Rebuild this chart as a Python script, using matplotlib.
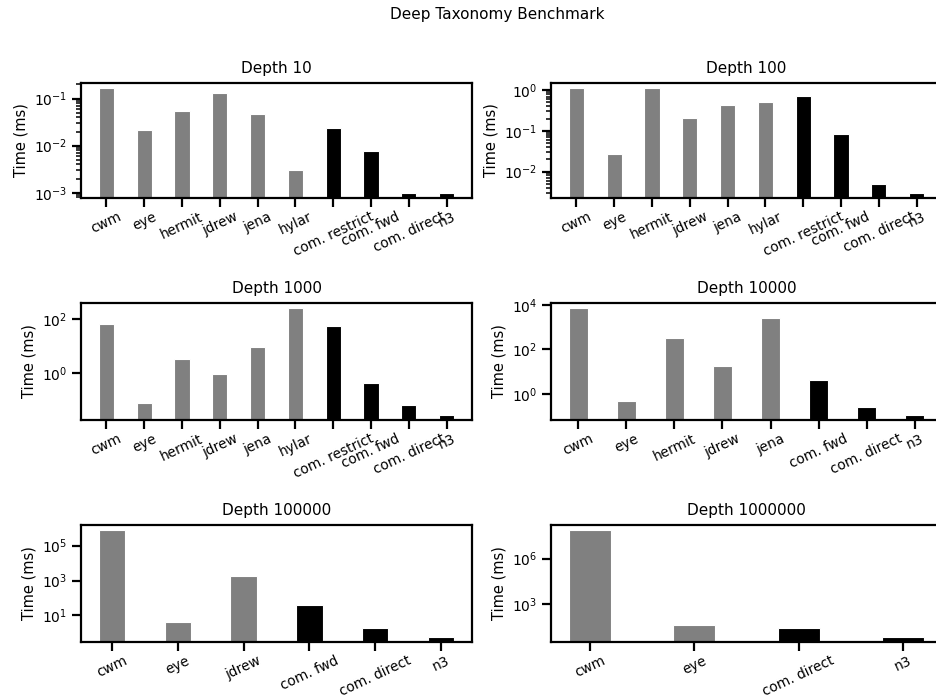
import matplotlib
matplotlib.use("Agg")
import matplotlib.pyplot as plt
import matplotlib.ticker as mticker
import seaborn as sns

sns.set_theme(style="ticks", context="paper")
plt.rcParams['font.family'] = ['DejaVu Sans']
plt.rcParams.update({
    "axes.linewidth": 1.6,
    "xtick.major.width": 1.6,
    "ytick.major.width": 1.6,
    "xtick.minor.width": 1.1,
    "ytick.minor.width": 1.1,
    "xtick.major.size": 6.5,
    "ytick.major.size": 6.5,
    "ytick.minor.size": 3.5,
    "xtick.major.pad": 2.0,
    "xtick.labelsize": 9.8,
    "ytick.labelsize": 10,
    "axes.labelsize": 10.5,
    "axes.titlesize": 11,
    "axes.edgecolor": "black",
    "xtick.color": "black",
    "ytick.color": "black",
    "text.color": "black",
    "axes.labelcolor": "black",
})

titles = ["Depth 10", "Depth 100", "Depth 1000", "Depth 10000", "Depth 100000", "Depth 1000000"]

labels_10 = ["cwm", "eye", "hermit", "jdrew", "jena", "hylar", "com. restrict", "com. fwd", "com. direct", "n3"]
values_10 = [0.166, 0.022, 0.054, 0.129, 0.048, 0.0031, 0.024, 0.0079, 0.001, 0.001]

labels_100 = ["cwm", "eye", "hermit", "jdrew", "jena", "hylar", "com. restrict", "com. fwd", "com. direct", "n3"]
values_100 = [1.12, 0.0277, 1.12, 0.206, 0.433, 0.50, 0.72, 0.086, 0.0049, 0.0030]

labels_1000 = ["cwm", "eye", "hermit", "jdrew", "jena", "hylar", "com. restrict", "com. fwd", "com. direct", "n3"]
values_1000 = [67, 0.071, 3.4, 0.86, 8.9, 257, 54, 0.43, 0.06, 0.027]

labels_10000 = ["cwm", "eye", "hermit", "jdrew", "jena", "com. fwd", "com. direct", "n3"]
values_10000 = [7100, 0.5, 315, 19, 2500, 4.1, 0.25, 0.117]

labels_100000 = ["cwm", "eye", "jdrew", "com. fwd", "com. direct", "n3"]
values_100000 = [760000, 4.3, 1850, 41, 1.95, 0.6]

labels_1000000 = ["cwm", "eye", "com. direct", "n3"]
values_1000000 = [7.4e7, 43, 27, 6.9]

black_set = ["com. restrict", "com. fwd", "com. direct", "n3"]

# (decade step, offset decade) of the labelled y ticks in each panel
decade_steps = [1, 1, 2, 2, 2, 3]
decade_offsets = [0, 0, 0, 0, 1, 0]

datasets = [(labels_10, values_10), (labels_100, values_100), (labels_1000, values_1000),
            (labels_10000, values_10000), (labels_100000, values_100000), (labels_1000000, values_1000000)]

W, H = 936, 699
fig = plt.figure(figsize=(W / 100, H / 100), dpi=100)

col_left = [81, 551]
ax_w = 391
rows = [(83, 198), (303, 420), (525, 642)]

for i, (title, (labs, vals)) in enumerate(zip(titles, datasets)):
    r, c = divmod(i, 2)
    top, bot = rows[r]
    ax = fig.add_axes([col_left[c] / W, 1 - bot / H, ax_w / W, (bot - top) / H])
    colors = ["black" if l in black_set else "grey" for l in labs]
    x = list(range(len(labs)))
    ax.bar(x, vals, width=0.4, color=colors)
    ax.set_yscale("log")
    step = decade_steps[i]
    if step > 1:
        ax.yaxis.set_major_locator(
            mticker.LogLocator(base=10.0 ** step, subs=(10.0 ** decade_offsets[i],)))
        ax.yaxis.set_minor_locator(mticker.NullLocator())
    ax.set_xticks(x)
    ax.set_xticklabels(labs, rotation=25, ha="center")
    ax.set_ylabel("Time (ms)")
    ax.set_title(title, pad=7)

fig.suptitle("Deep Taxonomy Benchmark", x=497 / W, y=1 - 15 / H, va="center", fontsize=11)
fig.savefig("out.png", dpi=100)
